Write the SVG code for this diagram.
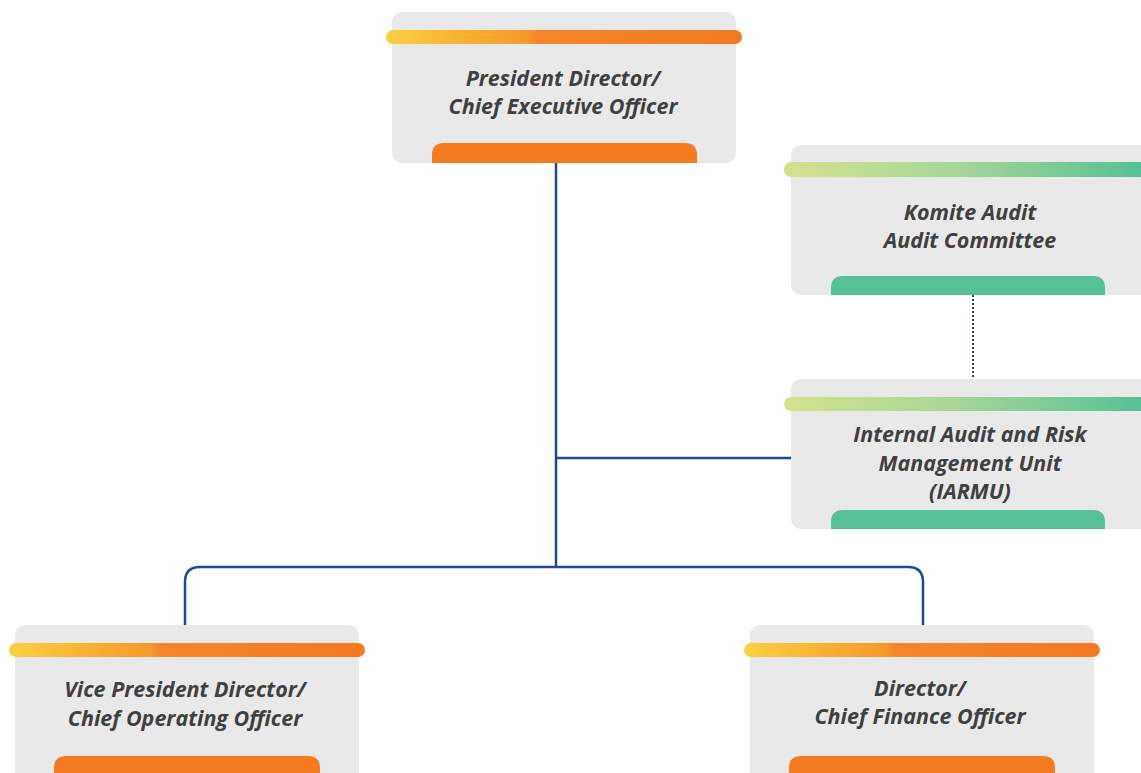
<svg xmlns="http://www.w3.org/2000/svg" width="1141" height="773" viewBox="0 0 1141 773">
<style>
.card{fill:#e9e9e9}
.otab{fill:#f47b20}
.gtab{fill:#56c097}
.t{font-family:"Open Sans","Liberation Sans",sans-serif;font-weight:bold;font-style:italic;font-size:21.5px;fill:#404040;text-anchor:middle}
.con{fill:none;stroke:#1c4a92;stroke-width:2.5}
</style>
<defs>
<linearGradient id="og" x1="0" y1="0" x2="1" y2="0">
<stop offset="0" stop-color="#fbd040"/>
<stop offset="0.4" stop-color="#f6982a"/>
<stop offset="0.42" stop-color="#f5862a"/>
<stop offset="1" stop-color="#f47a20"/>
</linearGradient>
<linearGradient id="gg" x1="0" y1="0" x2="1" y2="0">
<stop offset="0" stop-color="#d4e18c"/>
<stop offset="0.45" stop-color="#a8d796"/>
<stop offset="1" stop-color="#52be96"/>
</linearGradient>
</defs>
<rect width="1141" height="773" fill="#ffffff"/>
<g id="connectors">
<line class="con" x1="556" y1="163" x2="556" y2="567"/>
<line class="con" x1="556" y1="458" x2="791" y2="458"/>
<path class="con" d="M185 625 V582 Q185 567 200 567 H908 Q923 567 923 582 V625"/>
<line x1="973" y1="295" x2="973" y2="379" stroke="#1c4a92" stroke-width="2" stroke-dasharray="2 2"/>
</g>
<g id="ceo">
<rect class="card" x="392" y="12" width="344" height="151" rx="10"/>
<rect x="386" y="30" width="356" height="14" rx="7" fill="url(#og)"/>
<path class="otab" d="M432 163 V155 Q432 143 444 143 H685 Q697 143 697 155 V163 Z"/>
<text class="t" x="563" y="86">President Director/</text>
<text class="t" x="563" y="114">Chief Executive Officer</text>
</g>
<g id="audit-committee">
<rect class="card" x="791" y="145" width="362" height="150" rx="10"/>
<rect x="784" y="162" width="370" height="15" rx="7" fill="url(#gg)"/>
<path class="gtab" d="M831 295 V288 Q831 276 843 276 H1093 Q1105 276 1105 288 V295 Z"/>
<text class="t" x="970" y="220">Komite Audit</text>
<text class="t" x="970" y="248">Audit Committee</text>
</g>
<g id="iarmu">
<rect class="card" x="791" y="379" width="362" height="150" rx="10"/>
<rect x="784" y="397" width="370" height="14" rx="7" fill="url(#gg)"/>
<path class="gtab" d="M831 529 V522 Q831 510 843 510 H1093 Q1105 510 1105 522 V529 Z"/>
<text class="t" x="970" y="442">Internal Audit and Risk</text>
<text class="t" x="970" y="471">Management Unit</text>
<text class="t" x="970" y="499">(IARMU)</text>
</g>
<g id="coo">
<rect class="card" x="15" y="625" width="344" height="160" rx="10"/>
<rect x="9" y="643" width="356" height="14" rx="7" fill="url(#og)"/>
<path class="otab" d="M54 773 V768 Q54 756 66 756 H308 Q320 756 320 768 V773 Z"/>
<text class="t" x="185" y="697">Vice President Director/</text>
<text class="t" x="185" y="726">Chief Operating Officer</text>
</g>
<g id="cfo">
<rect class="card" x="750" y="625" width="344" height="160" rx="10"/>
<rect x="744" y="643" width="356" height="14" rx="7" fill="url(#og)"/>
<path class="otab" d="M789 773 V768 Q789 756 801 756 H1043 Q1055 756 1055 768 V773 Z"/>
<text class="t" x="920" y="696">Director/</text>
<text class="t" x="920" y="724">Chief Finance Officer</text>
</g>
</svg>
